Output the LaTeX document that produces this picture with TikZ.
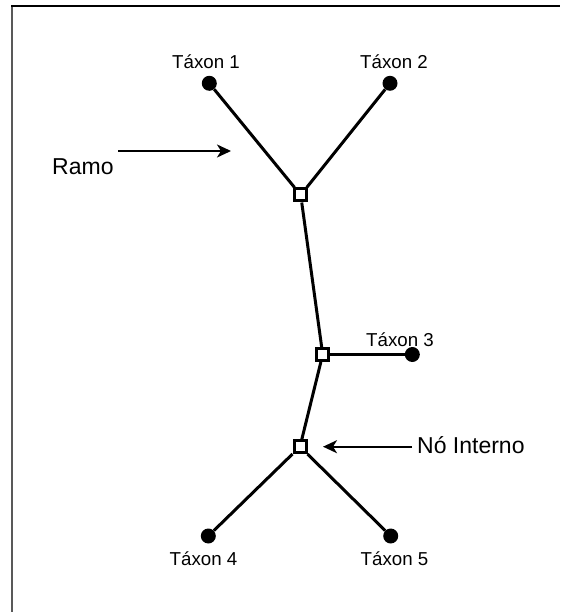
\documentclass[tikz,border=0pt]{standalone}
\usepackage{fontspec}
\setmainfont{Liberation Sans}
\usetikzlibrary{arrows.meta}
\begin{document}
\begin{tikzpicture}[x=1pt,y=-1pt,
  taxon/.style={circle,fill=black,inner sep=0pt,minimum size=15pt},
  inode/.style={draw=black,fill=white,line width=3pt,inner sep=0pt,minimum size=12pt},
  branch/.style={line width=3pt},
  pointer/.style={line width=2pt,-{Stealth[length=14pt,width=13pt,inset=4pt]}},
  small/.style={font=\fontsize{18.7}{22}\selectfont,inner sep=0pt,anchor=base},
  big/.style={font=\fontsize{23}{27}\selectfont,inner sep=0pt,anchor=base west}]
\useasboundingbox (0,0) rectangle (560,612);
\draw[line width=2pt, gray!70!black] (12,612) -- (12,6.5);
\draw[line width=2pt] (11,6.5) -- (560,6.5);
% nodes
\node[taxon] (t1) at (209.3,83.3) {};
\node[taxon] (t2) at (390,83.3) {};
\node[taxon] (t3) at (412.3,354.5) {};
\node[taxon] (t4) at (208.3,536) {};
\node[taxon] (t5) at (390.7,536) {};
\node[inode] (n1) at (300.7,195) {};
\node[inode] (n2) at (322.7,354.5) {};
\node[inode] (n3) at (300,446.7) {};
% branches
\draw[branch] (t1) -- (n1);
\draw[branch] (t2) -- (n1);
\draw[branch] (n1) -- (n2);
\draw[branch] (n2) -- (t3);
\draw[branch] (n2) -- (n3);
\draw[branch] (n3) -- (t4);
\draw[branch] (n3) -- (t5);
% redraw internal nodes on top
\node[inode] at (n1) {};
\node[inode] at (n2) {};
\node[inode] at (n3) {};
% labels
\node[small] (l1) at (206,68.3) {Táxon 1};
\node[small] (l2) at (394,68.3) {Táxon 2};
\node[small] (l3) at (400,346) {Táxon 3};
\node[small] (l4) at (203.5,565) {Táxon 4};
\node[small] (l5) at (394.5,565) {Táxon 5};
\node[big] (ramo) at (52,175) {Ramo};
\node[big] (no) at (417,453.3) {Nó Interno};
% pointers
\coordinate (ra) at (118,151);
\coordinate (rb) at (231,151);
\coordinate (na) at (412,446.7);
\coordinate (nb) at (323,446.7);
\draw[pointer] (ra) -- (rb);
\draw[pointer] (na) -- (nb);
\end{tikzpicture}
\end{document}
